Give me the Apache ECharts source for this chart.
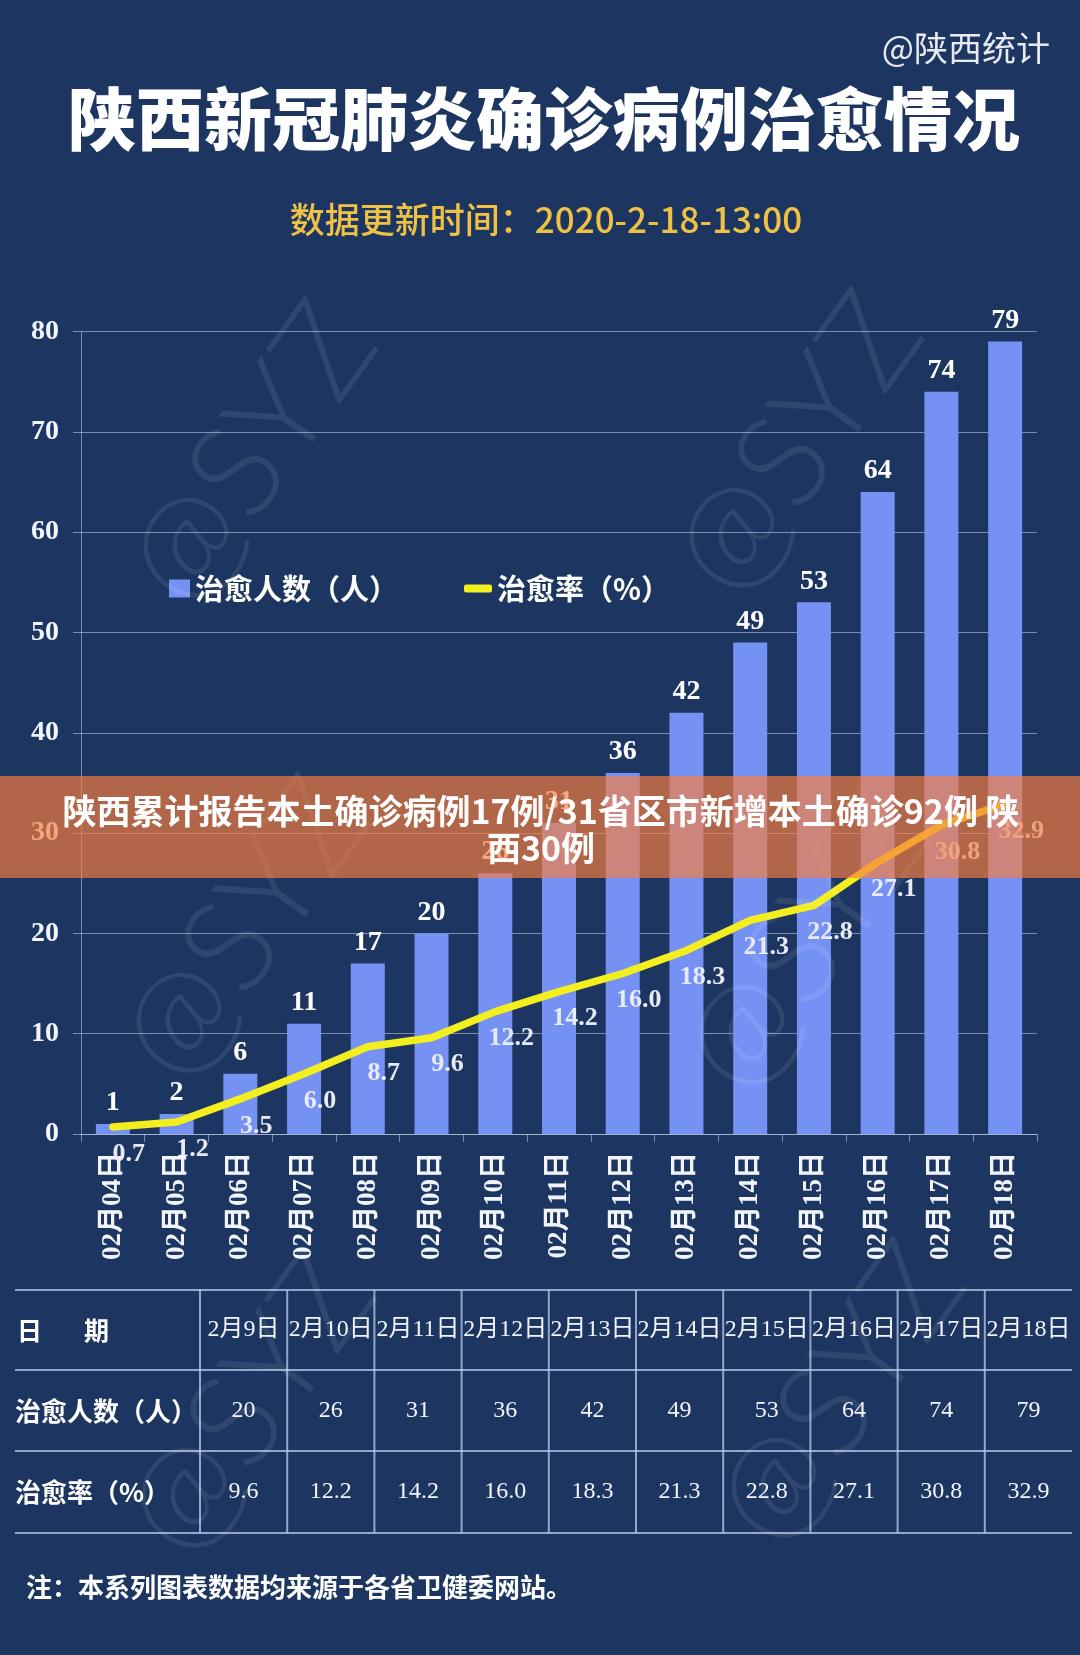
<!DOCTYPE html>
<html>
<head>
<meta charset="utf-8">
<title>陕西新冠肺炎确诊病例治愈情况</title>
<script src="https://cdn.jsdelivr.net/npm/echarts@6/dist/echarts.min.js"></script>
<style>
  html, body { margin: 0; padding: 0; background: #1c3661; }
  #main { width: 1080px; height: 1655px; }
</style>
</head>
<body>
<div id="main"></div>
<script>
// 数据
var categories = ['02月04日', '02月05日', '02月06日', '02月07日', '02月08日', '02月09日', '02月10日',
    '02月11日', '02月12日', '02月13日', '02月14日', '02月15日', '02月16日', '02月17日', '02月18日'];
var cured = [1, 2, 6, 11, 17, 20, 26, 31, 36, 42, 49, 53, 64, 74, 79];
var rate = [0.7, 1.2, 3.5, 6.0, 8.7, 9.6, 12.2, 14.2, 16.0, 18.3, 21.3, 22.8, 27.1, 30.8, 32.9];
var yTicks = [0, 10, 20, 30, 40, 50, 60, 70, 80];

// 表格
var tableDates = ['2月9日', '2月10日', '2月11日', '2月12日', '2月13日', '2月14日', '2月15日', '2月16日', '2月17日', '2月18日'];
var tableCured = [20, 26, 31, 36, 42, 49, 53, 64, 74, 79];
var tableRate = [9.6, 12.2, 14.2, 16.0, 18.3, 21.3, 22.8, 27.1, 30.8, 32.9];
var tableRowNames = ['治愈人数（人）', '治愈率（%）'];

var serif = '"Liberation Serif", "Noto Sans CJK SC", serif';
var hei = '"Noto Sans CJK SC", sans-serif';
var gridColor = 'rgba(185,200,228,0.6)';
var barColor = '#7591f4';
var lineColor = '#f3ee1e';

var graphics = [];

// 水印 @SYZ
var marks = [[252, 455], [798, 445], [245, 930], [808, 942], [250, 1405], [840, 1395]];
marks.forEach(function (p) {
    graphics.push({
        type: 'text', x: p[0], y: p[1], rotation: 0.95, z: 50, silent: true,
        style: {
            text: '@SYZ', x: 0, y: 0, textAlign: 'center', textVerticalAlign: 'middle',
            font: '300 130px Lato, "Open Sans", sans-serif', fill: 'rgba(255,255,255,0.085)'
        }
    });
});

// 标题
graphics.push({
    type: 'text', z: 10,
    style: { text: '@陕西统计', x: 1050, y: 48, textAlign: 'right', textVerticalAlign: 'middle',
        font: '34px ' + hei, fill: '#e8eaf0' }
});
graphics.push({
    type: 'text', z: 10,
    style: { text: '陕西新冠肺炎确诊病例治愈情况', x: 544, y: 119, textAlign: 'center', textVerticalAlign: 'middle',
        font: '900 68px ' + hei, fill: '#ffffff' }
});
graphics.push({
    type: 'text', z: 10,
    style: { text: '数据更新时间：2020-2-18-13:00', x: 546, y: 220, textAlign: 'center', textVerticalAlign: 'middle',
        font: '500 35px ' + hei, fill: '#efc246' }
});

// 表格
var tLeft = 15, tRight = 1072, colStart = 200, colW = (tRight - colStart) / tableDates.length;
var rowLines = [1290, 1370, 1451, 1533];
var rowMid = [1330, 1411, 1492];
rowLines.forEach(function (y) {
    graphics.push({ type: 'line', z: 10, shape: { x1: tLeft, y1: y, x2: tRight, y2: y },
        style: { stroke: 'rgba(190,205,235,0.75)', lineWidth: 2 } });
});
for (var i = 0; i < tableDates.length; i++) {
    var cx = colStart + colW * i;
    graphics.push({ type: 'line', z: 10, shape: { x1: cx, y1: rowLines[0], x2: cx, y2: rowLines[3] },
        style: { stroke: 'rgba(190,205,235,0.75)', lineWidth: 2 } });
    var mid = cx + colW / 2;
    [tableDates[i], String(tableCured[i]), tableRate[i].toFixed(1)].forEach(function (t, r) {
        graphics.push({ type: 'text', z: 10,
            style: { text: t, x: mid, y: rowMid[r], textAlign: 'center', textVerticalAlign: 'middle',
                font: '24px ' + serif, fill: '#f2f4fa' } });
    });
}
graphics.push({ type: 'text', z: 10,
    style: { text: '日', x: 17, y: rowMid[0], textVerticalAlign: 'middle', font: 'bold 25px ' + hei, fill: '#ffffff' } });
graphics.push({ type: 'text', z: 10,
    style: { text: '期', x: 84, y: rowMid[0], textVerticalAlign: 'middle', font: 'bold 25px ' + hei, fill: '#ffffff' } });
tableRowNames.forEach(function (t, r) {
    graphics.push({ type: 'text', z: 10,
        style: { text: t, x: 15, y: rowMid[r + 1], textVerticalAlign: 'middle', font: 'bold 26px ' + hei, fill: '#ffffff' } });
});

// 注释
graphics.push({ type: 'text', z: 10,
    style: { text: '注：本系列图表数据均来源于各省卫健委网站。', x: 26, y: 1587, textVerticalAlign: 'middle',
        font: 'bold 26px ' + hei, fill: '#ffffff' } });

// 横幅
graphics.push({ type: 'rect', z: 100, shape: { x: 0, y: 776, width: 1080, height: 102 },
    style: { fill: 'rgba(248,126,64,0.68)' } });
graphics.push({ type: 'text', z: 101,
    style: { text: '陕西累计报告本土确诊病例17例/31省区市新增本土确诊92例 陕', x: 541, y: 811,
        textAlign: 'center', textVerticalAlign: 'middle', font: 'bold 34px ' + hei, fill: '#ffffff' } });
graphics.push({ type: 'text', z: 101,
    style: { text: '西30例', x: 541, y: 848,
        textAlign: 'center', textVerticalAlign: 'middle', font: 'bold 34px ' + hei, fill: '#ffffff' } });

var myChart = echarts.init(document.getElementById('main'));
var option = {
    backgroundColor: '#1c3661',
    animation: false,
    grid: { left: 81, right: 43, top: 331.5, bottom: 521, containLabel: false },
    legend: [
        {
            data: ['治愈人数（人）'], left: 169, top: 574, padding: 0,
            icon: 'rect', itemWidth: 21, itemHeight: 18,
            textStyle: { color: '#ffffff', fontSize: 29, fontWeight: 'bold', fontFamily: hei }
        },
        {
            data: ['治愈率（%）'], left: 464, top: 574, padding: 0,
            icon: 'roundRect', itemWidth: 28, itemHeight: 8,
            textStyle: { color: '#ffffff', fontSize: 29, fontWeight: 'bold', fontFamily: hei }
        }
    ],
    xAxis: {
        type: 'category',
        data: categories,
        axisLine: { lineStyle: { color: gridColor, width: 1 } },
        axisTick: { show: true, length: 8, lineStyle: { color: gridColor } },
        axisLabel: {
            rotate: 90, interval: 0, margin: 18,
            color: '#f2f4fa', fontSize: 27, fontWeight: 'bold', fontFamily: serif
        }
    },
    yAxis: {
        type: 'value',
        min: yTicks[0], max: yTicks[yTicks.length - 1], interval: yTicks[1] - yTicks[0],
        axisLine: { show: true, lineStyle: { color: gridColor, width: 1 } },
        axisTick: { show: true, length: 8, lineStyle: { color: gridColor } },
        splitLine: { lineStyle: { color: gridColor, width: 1 } },
        axisLabel: { margin: 22, color: '#f2f4fa', fontSize: 28, fontWeight: 'bold', fontFamily: serif }
    },
    series: [
        {
            name: '治愈人数（人）',
            type: 'bar',
            data: cured,
            barWidth: 34,
            itemStyle: { color: barColor },
            label: {
                show: true, position: 'top', distance: 7,
                color: '#ffffff', fontSize: 28, fontWeight: 'bold', fontFamily: serif
            },
            z: 2
        },
        {
            name: '治愈率（%）',
            type: 'line',
            data: rate,
            color: lineColor,
            symbol: 'circle',
            symbolSize: 2,
            itemStyle: { color: lineColor },
            lineStyle: { color: lineColor, width: 7.5, cap: 'round', join: 'round' },
            label: {
                show: true, position: 'bottom', offset: [16, 8],
                formatter: function (p) { return p.value.toFixed(1); },
                color: '#e6ebf7', fontSize: 26, fontWeight: 'bold', fontFamily: serif
            },
            z: 3
        }
    ],
    graphic: { elements: graphics }
};

// 为echarts对象加载数据
myChart.setOption(option);
</script>
</body>
</html>
